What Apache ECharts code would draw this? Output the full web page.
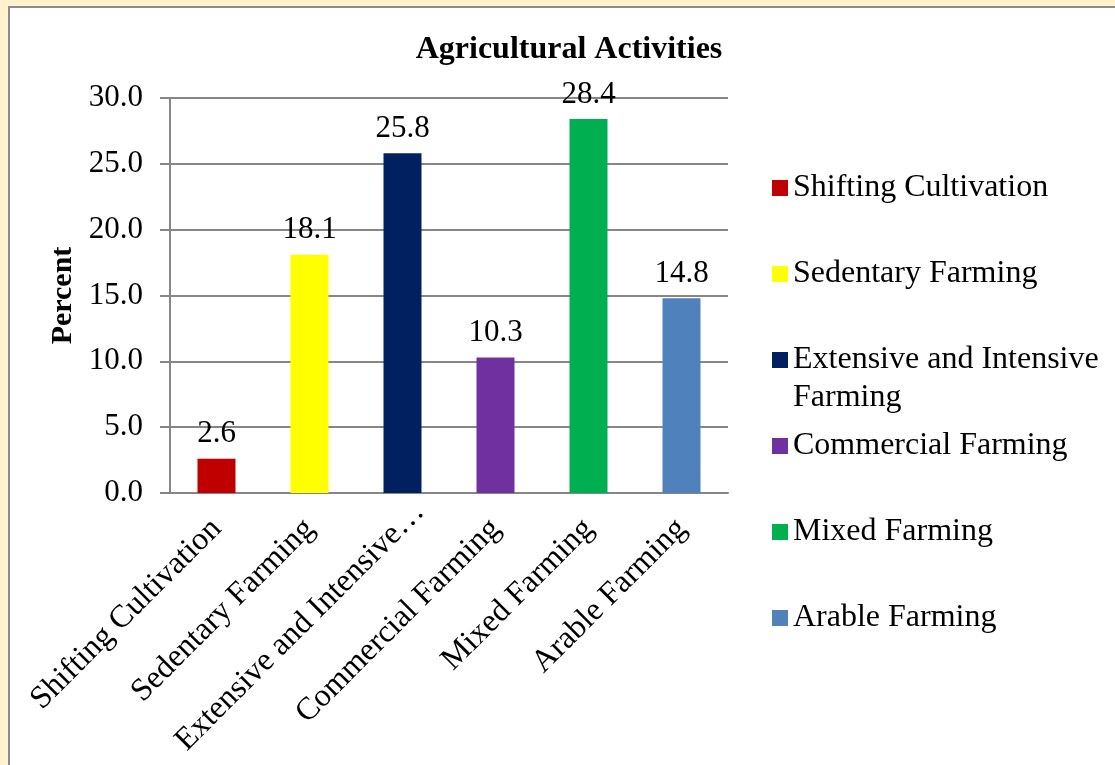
<!DOCTYPE html>
<html lang="en">
<head>
<meta charset="utf-8">
<script src="https://cdn.jsdelivr.net/npm/echarts@6/dist/echarts.min.js"></script>
<style>
  html, body { margin: 0; padding: 0; background: #FFF2CC; overflow: hidden; }
  #frame { position: absolute; left: 8px; top: 6px; width: 1120px; height: 770px; background: #fff; border: 2px solid #8c8c8c; }
  #main { position: absolute; left: 0; top: 0; width: 1115px; height: 765px; }
</style>
</head>
<body>
<div id="frame"></div>
<div id="main"></div>
<script type="text/javascript">
  // chart data
  var categories = ['Shifting Cultivation', 'Sedentary Farming', 'Extensive and Intensive Farming',
                    'Commercial Farming', 'Mixed Farming', 'Arable Farming'];
  var values = [2.6, 18.1, 25.8, 10.3, 28.4, 14.8];
  var colors = ['#C00000', '#FFFF00', '#002060', '#7030A0', '#00B050', '#4F81BD'];
  var yTicks = { min: 0, max: 30, interval: 5 };

  var font = 'Liberation Serif';
  var longName = 'Extensive and Intensive Farming';

  // one series per category so the legend lists each bar
  var series = categories.map(function (name, i) {
    return {
      type: 'bar',
      name: name,
      stack: 'all',
      barWidth: 38,
      itemStyle: { color: colors[i] },
      label: {
        show: true, position: 'top', distance: 9,
        fontFamily: font, fontSize: 31, color: '#000',
        formatter: function (p) { return p.value.toFixed(1); }
      },
      data: values.map(function (v, j) { return j === i ? v : '-'; })
    };
  });

  // legend is split in blocks so the wrapped entry keeps its swatch on the first line
  function legendBlock(names, top) {
    return {
      orient: 'vertical',
      left: 772, top: top, padding: 0,
      itemWidth: 16, itemHeight: 16, itemGap: 48,
      icon: 'rect',
      data: names,
      formatter: function (name) {
        return name === longName ? ' \nExtensive and Intensive\nFarming' : name;
      },
      textStyle: { fontFamily: font, fontSize: 32, color: '#000', lineHeight: 38 }
    };
  }

  // truncated category label sticks out past its tick a little, like the original
  var xData = categories.map(function (c) {
    return c === longName ? { value: c, textStyle: { padding: [0, -24, 0, 24] } } : c;
  });

  var chart = echarts.init(document.getElementById('main'));
  chart.setOption({
    animation: false,
    title: {
      text: 'Agricultural Activities',
      left: 564, top: 29, textAlign: 'center',
      textStyle: { fontFamily: font, fontSize: 32, fontWeight: 'bold', color: '#000' }
    },
    legend: [
      legendBlock(categories.slice(0, 2), 169),
      legendBlock(categories.slice(2, 3), 303),
      legendBlock(categories.slice(3), 427)
    ],
    grid: { left: 170, right: 387, top: 98, bottom: 272, outerBoundsMode: 'none' },
    xAxis: {
      type: 'category',
      data: xData,
      axisTick: { show: false },
      axisLine: { lineStyle: { color: '#868686', width: 2 } },
      axisLabel: {
        interval: 0, rotate: 45, margin: 31,
        fontFamily: font, fontSize: 32, color: '#000',
        formatter: function (v) { return v.length > 25 ? v.slice(0, 23) + '…' : v; }
      }
    },
    yAxis: {
      type: 'value',
      min: yTicks.min, max: yTicks.max, interval: yTicks.interval,
      name: 'Percent',
      nameLocation: 'middle', nameRotate: 90, nameGap: 92,
      nameTextStyle: { fontFamily: font, fontSize: 30, fontWeight: 'bold', color: '#000' },
      axisLine: { show: true, lineStyle: { color: '#868686', width: 2 } },
      axisTick: { show: true, length: 10, lineStyle: { color: '#868686', width: 2 } },
      splitLine: { lineStyle: { color: '#868686', width: 2 } },
      axisLabel: {
        margin: 27, fontFamily: font, fontSize: 31, color: '#000',
        formatter: function (v) { return v.toFixed(1); }
      }
    },
    series: series
  });
</script>
</body>
</html>
